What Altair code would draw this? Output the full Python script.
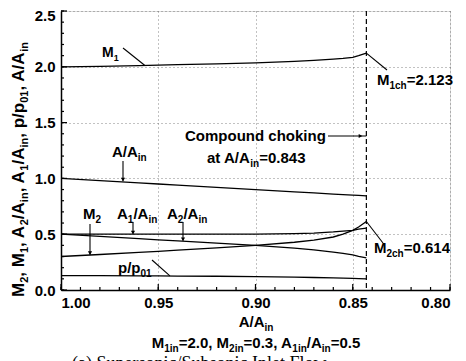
import altair as alt
import pandas as pd

# ---------------- data ----------------
x_vals = [1.00, 0.98, 0.96, 0.95, 0.94, 0.92, 0.90, 0.88, 0.87, 0.86, 0.855, 0.85, 0.847, 0.843]
m1 = [2.000, 2.003, 2.010, 2.015, 2.020, 2.027, 2.035, 2.048, 2.057, 2.068, 2.075, 2.085, 2.100, 2.123]
m2 = [0.300, 0.318, 0.337, 0.347, 0.357, 0.378, 0.400, 0.428, 0.447, 0.475, 0.500, 0.535, 0.565, 0.614]
a1 = [0.500, 0.500, 0.500, 0.500, 0.500, 0.500, 0.500, 0.505, 0.510, 0.520, 0.527, 0.535, 0.545, 0.555]
a2 = [0.500, 0.480, 0.460, 0.450, 0.440, 0.420, 0.400, 0.375, 0.360, 0.340, 0.328, 0.315, 0.302, 0.288]
a_ratio = [1.000, 0.980, 0.960, 0.950, 0.940, 0.920, 0.900, 0.880, 0.870, 0.860, 0.855, 0.850, 0.847, 0.843]
p_ratio = [0.128, 0.128, 0.127, 0.126, 0.125, 0.123, 0.120, 0.115, 0.112, 0.108, 0.106, 0.104, 0.102, 0.100]

series_names = ["M1", "M2", "A1/Ain", "A2/Ain", "A/Ain", "p/p01"]
series_vals = [m1, m2, a1, a2, a_ratio, p_ratio]

x_major = [1.00, 0.95, 0.90, 0.85, 0.80]
y_major = [0.0, 0.5, 1.0, 1.5, 2.0, 2.5]
x_minor = [round(0.80 + 0.01 * i, 2) for i in range(21)]
y_minor = [round(0.1 * i, 1) for i in range(26)]
choke_x = 0.843

# ---------------- layout ----------------
W, H = 389, 279
LEFT, TOP = 61, 11          # page position of plot origin
X_LO, X_HI = 0.80, 1.00
Y_LO, Y_HI = 0.0, 2.5
FONT = "Liberation Sans"


def px2x(page_x):
    return X_HI - (X_HI - X_LO) * (page_x - LEFT) / W


def py2y(page_y):
    return Y_HI - (Y_HI - Y_LO) * (page_y - TOP) / H


CW = {" ": .278, "(": .333, ")": .333, ",": .278, ".": .278, "/": .278, "=": .584,
      "A": .722, "C": .722, "M": .833, "a": .556, "c": .556, "d": .611, "g": .611,
      "h": .611, "i": .278, "k": .556, "m": .889, "n": .611, "o": .611, "p": .611,
      "t": .333, "u": .611, "l": .278}


def tw(s):
    return sum(CW.get(ch, .556) for ch in s)


def rich(segs, x0, y0, size, sub, angle=0, shift=4, center=False):
    rows = []
    total = sum(tw(t) * (sub if s else size) for t, s in segs)
    pos = -total / 2 if center else 0
    for t, s in segs:
        fs = sub if s else size
        if angle == 0:
            px, py = x0 + pos, y0 + (shift if s else 0)
        else:
            px, py = x0 + (shift if s else 0), y0 - pos
        rows.append(dict(x=px2x(px), y=py2y(py), t=t, fs=fs, ang=angle))
        pos += tw(t) * fs
    return rows


texts = []
texts += rich([("M", 0), ("1", 1)], 102, 57, 14, 9)
texts += rich([("M", 0), ("1ch", 1), ("=2.123", 0)], 377, 85, 15, 10)
texts += rich([("Compound choking", 0)], 185, 141, 15, 10)
texts += rich([("at A/A", 0), ("in", 1), ("=0.843", 0)], 207, 163, 15, 10)
texts += rich([("A/A", 0), ("in", 1)], 112, 157, 15, 10)
texts += rich([("M", 0), ("2", 1)], 83, 219, 15, 10)
texts += rich([("A", 0), ("1", 1), ("/A", 0), ("in", 1)], 117, 219, 15, 10)
texts += rich([("A", 0), ("2", 1), ("/A", 0), ("in", 1)], 167, 219, 15, 10)
texts += rich([("p/p", 0), ("01", 1)], 118, 273, 15, 10)
texts += rich([("M", 0), ("2ch", 1), ("=0.614", 0)], 374, 253, 15, 10)
# axis titles
texts += rich([("A/A", 0), ("in", 1)], 256, 327, 15, 10, center=True)
texts += rich([("M", 0), ("1in", 1), ("=2.0, M", 0), ("2in", 1), ("=0.3, A", 0),
               ("1in", 1), ("/A", 0), ("in", 1), ("=0.5", 0)], 256, 348, 15, 10, center=True)
texts += rich([("M", 0), ("2", 1), (", M", 0), ("1", 1), (", A", 0), ("2", 1), ("/A", 0),
               ("in", 1), (", A", 0), ("1", 1), ("/A", 0), ("in", 1), (", p/p", 0),
               ("01", 1), (", A/A", 0), ("in", 1)], 24, 297, 17, 11, angle=270, shift=4)

# leader lines / arrows (page px -> data)
leaders = pd.DataFrame([
    dict(x=px2x(123), y=py2y(48), x2=0.957, y2=2.014),            # M1
    dict(x=choke_x, y=2.123, x2=px2x(387), y2=py2y(70)),          # M1ch
    dict(x=choke_x, y=0.614, x2=px2x(383), y2=py2y(243)),         # M2ch
    dict(x=px2x(152), y=py2y(260), x2=0.944, y2=0.127),           # p/p01
    dict(x=px2x(328), y=py2y(136), x2=choke_x, y2=py2y(136)),     # compound choking
    dict(x=px2x(123), y=py2y(161), x2=px2x(123), y2=0.975),       # A/Ain
    dict(x=px2x(90), y=py2y(224), x2=px2x(90), y2=0.316),         # M2
    dict(x=px2x(133), y=py2y(222), x2=px2x(133), y2=0.503),       # A1
    dict(x=px2x(183), y=py2y(222), x2=px2x(183), y2=0.442),       # A2
])
heads_down = pd.DataFrame([
    dict(x=px2x(123), y=0.99), dict(x=px2x(90), y=0.33),
    dict(x=px2x(133), y=0.515), dict(x=px2x(183), y=0.455),
])
heads_right = pd.DataFrame([dict(x=0.846, y=py2y(136))])

# ---------------- chart ----------------
rows = []
for name, vals in zip(series_names, series_vals):
    for xv, yv in zip(x_vals, vals):
        rows.append(dict(x=xv, y=yv, s=name))
df = pd.DataFrame(rows)

xs = alt.Scale(domain=[X_LO, X_HI], reverse=True, nice=False, zero=False)
ys = alt.Scale(domain=[Y_LO, Y_HI], nice=False, zero=False)

axis_common = dict(labelFont=FONT, labelFontSize=15, labelFontWeight="bold", labelColor="black",
                   ticks=False, grid=True, gridDash=[1, 3], gridColor="#666", gridWidth=0.8,
                   domainColor="black", domainWidth=1.5, title=None)

lines = alt.Chart(df).mark_line(color="black", strokeWidth=1.3).encode(
    x=alt.X("x:Q", scale=xs, axis=alt.Axis(values=x_major, format=".2f", labelPadding=5, **axis_common)),
    y=alt.Y("y:Q", scale=ys, axis=alt.Axis(
        values=y_major, format=".1f", labelPadding=6,
        labelOffset={"condition": {"test": "datum.value >= 2.5", "value": 4}, "value": 0},
        **axis_common)),
    detail="s:N",
    order="x:Q",
)

choke = alt.Chart(pd.DataFrame({"x": [choke_x]})).mark_rule(
    color="black", strokeWidth=1.2, strokeDash=[5, 3]).encode(
    x=alt.X("x:Q", scale=xs), y=alt.value(0), y2=alt.value(H))

xt_major = alt.Chart(pd.DataFrame({"x": x_major})).mark_rule(color="black", strokeWidth=1.2).encode(
    x=alt.X("x:Q", scale=xs), y=alt.value(H), y2=alt.value(H - 6))
xt_minor = alt.Chart(pd.DataFrame({"x": x_minor})).mark_rule(color="black", strokeWidth=1.2).encode(
    x=alt.X("x:Q", scale=xs), y=alt.value(H), y2=alt.value(H - 3))
yt_major = alt.Chart(pd.DataFrame({"y": y_major})).mark_rule(color="black", strokeWidth=1.2).encode(
    y=alt.Y("y:Q", scale=ys), x=alt.value(0), x2=alt.value(6))
yt_minor = alt.Chart(pd.DataFrame({"y": y_minor})).mark_rule(color="black", strokeWidth=1.2).encode(
    y=alt.Y("y:Q", scale=ys), x=alt.value(0), x2=alt.value(3))

lead = alt.Chart(leaders).mark_rule(color="black", strokeWidth=1.1).encode(
    x=alt.X("x:Q", scale=xs), y=alt.Y("y:Q", scale=ys), x2="x2:Q", y2="y2:Q")

hd = alt.Chart(heads_down).mark_point(shape="triangle-down", filled=True, color="black",
                                      size=18, opacity=1).encode(
    x=alt.X("x:Q", scale=xs), y=alt.Y("y:Q", scale=ys))
hr = alt.Chart(heads_right).mark_point(shape="triangle-right", filled=True, color="black",
                                       size=18, opacity=1).encode(
    x=alt.X("x:Q", scale=xs), y=alt.Y("y:Q", scale=ys))

txt = alt.Chart(pd.DataFrame(texts)).mark_text(
    font=FONT, fontWeight="bold", align="left", baseline="alphabetic", color="black").encode(
    x=alt.X("x:Q", scale=xs), y=alt.Y("y:Q", scale=ys), text="t:N",
    size=alt.Size("fs:Q", scale=None), angle=alt.Angle("ang:Q", scale=None))

caption = alt.Chart(pd.DataFrame([dict(x=px2x(72), y=py2y(369),
                                       t="(a)  Supersonic/Subsonic  Inlet  Flow")])).mark_text(
    font="Liberation Serif", fontSize=18, align="left", baseline="alphabetic", color="black").encode(
    x=alt.X("x:Q", scale=xs), y=alt.Y("y:Q", scale=ys), text="t:N")

chart = alt.layer(lines, choke, xt_major, xt_minor, yt_major, yt_minor, lead, hd, hr, txt, caption).properties(
    width=W, height=H,
    autosize=alt.AutoSizeParams(type="none"),
    padding={"left": LEFT - 8, "top": TOP - 8, "right": 8, "bottom": 353 - (TOP - 8) - H},
).configure_view(stroke="black", strokeWidth=1.5).configure(background="white")

chart.save("out.html", embed_options={"renderer": "svg", "actions": False})
